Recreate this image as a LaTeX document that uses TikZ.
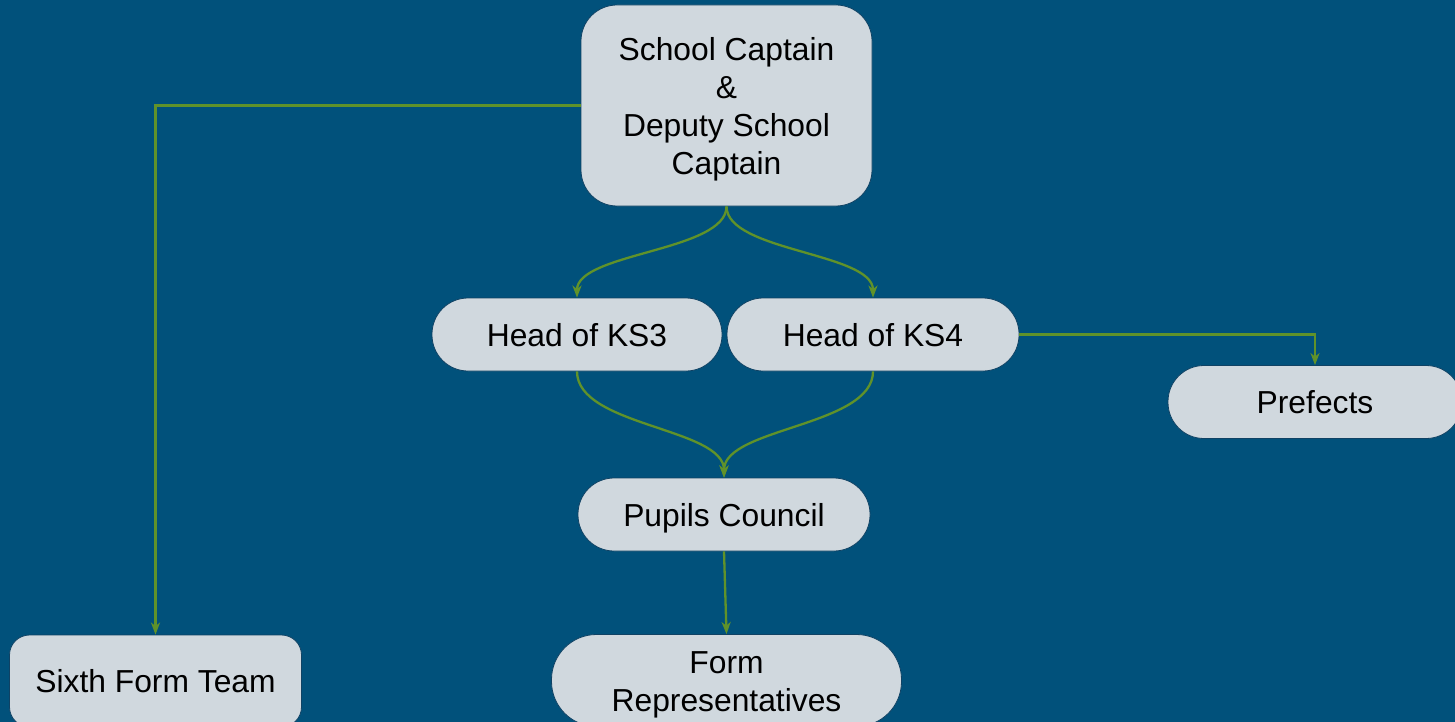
\documentclass[tikz,border=0pt]{standalone}
\usepackage{fontspec}
\setmainfont{Liberation Sans}
\usetikzlibrary{arrows.meta}
\definecolor{bg}{RGB}{1,81,123}
\definecolor{nodefill}{RGB}{208,216,222}
\definecolor{edgecol}{RGB}{96,146,42}
\definecolor{nodeline}{RGB}{16,66,100}
\tikzset{
  box/.style={draw=nodeline, line width=0.8pt, fill=nodefill, rectangle, inner sep=0pt,
    align=center, text=black, font=\fontsize{31.8}{37.9}\selectfont,
    text height=29.5pt, text depth=6pt},
  conn/.style={draw=edgecol, line width=2.3pt, -{Stealth[length=12pt,width=9pt,inset=3.5pt]}}
}
\begin{document}
\begin{tikzpicture}[x=1pt,y=-1pt]
\fill[bg] (0,0) rectangle (1455,722);
\useasboundingbox (0,0) rectangle (1455,722);
\node[box, text height=143.2pt, minimum width=291pt, minimum height=201pt, rounded corners=36pt] (sc) at (726.5,105.5) {School Captain\\\&\\Deputy School\\Captain};
\node[box, minimum width=290pt, minimum height=73pt, rounded corners=36pt] (k3) at (577,334.5) {Head of KS3};
\node[box, minimum width=292pt, minimum height=73pt, rounded corners=36pt] (k4) at (873,334.5) {Head of KS4};
\node[box, minimum width=294pt, minimum height=73pt, rounded corners=36pt] (pf) at (1315,402) {Prefects};
\node[box, minimum width=292pt, minimum height=73pt, rounded corners=36pt] (pc) at (724,514.5) {Pupils Council};
\node[box, text height=67.4pt, minimum width=350pt, minimum height=92pt, rounded corners=45pt] (fr) at (726.5,680.5) {Form\\Representatives};
\node[box, minimum width=292pt, minimum height=92pt, rounded corners=20pt] (sf) at (155.5,681) {Sixth Form Team};
\draw[conn] (sc.south) .. controls +(0,45) and +(0,-45) .. (k3.north);
\draw[conn] (sc.south) .. controls +(0,45) and +(0,-45) .. (k4.north);
\draw[conn] (k3.south) .. controls +(0,55) and +(0,-50) .. (pc.north);
\draw[conn] (k4.south) .. controls +(0,55) and +(0,-50) .. (pc.north);
\draw[conn] (pc.south) -- (fr.north);
\draw[conn] (k4.east) -| (pf.north);
\draw[conn] (sc.west) -| (sf.north);
\end{tikzpicture}
\end{document}
